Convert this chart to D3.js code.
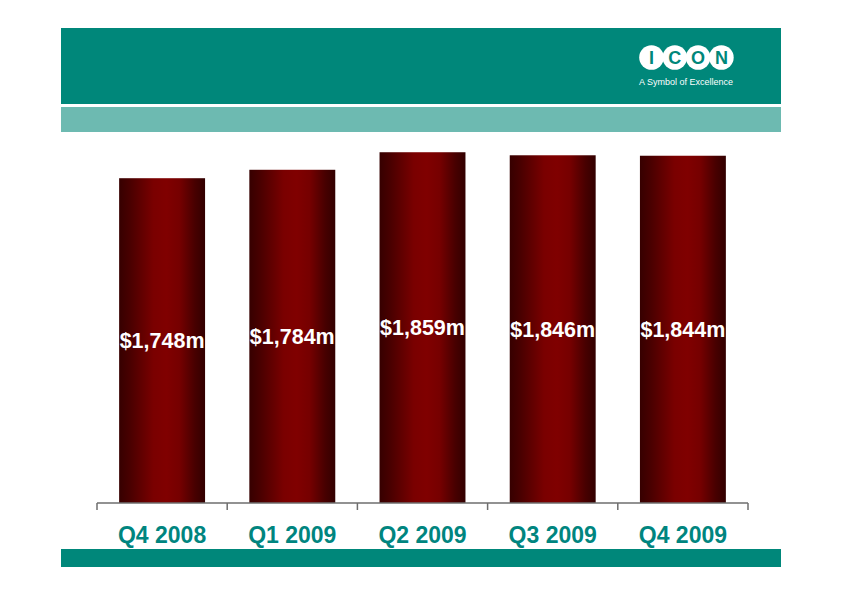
<!DOCTYPE html>
<html>
<head>
<meta charset="utf-8">
<script src="https://cdn.jsdelivr.net/npm/d3@7"></script>
<style>
  html, body { margin: 0; padding: 0; background: #ffffff; }
  svg { display: block; }
</style>
</head>
<body>
<svg id="chart" width="842" height="595"></svg>
<script>
// ---- Data ----
const categories = ["Q4 2008", "Q1 2009", "Q2 2009", "Q3 2009", "Q4 2009"];
const values = [1748, 1784, 1859, 1846, 1844];
const valueLabels = ["$1,748m", "$1,784m", "$1,859m", "$1,846m", "$1,844m"];
const logoLetters = ["I", "C", "O", "N"];
const logoTagline = "A Symbol of Excellence";

// ---- Layout ----
const svg = d3.select("#chart");
const teal = "#00877a";
const labelTeal = "#00857f";
const lightTeal = "#6dbab1";

// header band
svg.append("rect").attr("x", 61).attr("y", 28).attr("width", 720).attr("height", 76).attr("fill", teal);
svg.append("rect").attr("x", 61).attr("y", 107).attr("width", 720).attr("height", 25).attr("fill", lightTeal);
// footer band
svg.append("rect").attr("x", 61).attr("y", 549).attr("width", 720).attr("height", 18).attr("fill", teal);

// logo
const logo = svg.append("g").attr("transform", "translate(651.5,57.5)");
logo.selectAll("circle").data(logoLetters).join("circle")
  .attr("cx", (d, i) => i * 23.3)
  .attr("cy", 0)
  .attr("r", 12.3)
  .attr("fill", "#ffffff");
logo.selectAll("text").data(logoLetters).join("text")
  .attr("x", (d, i) => i * 23.3)
  .attr("y", 0)
  .attr("dy", "0.36em")
  .attr("text-anchor", "middle")
  .attr("font-family", "'Liberation Sans', Arial, sans-serif")
  .attr("font-weight", "bold")
  .attr("font-size", 18)
  .attr("fill", teal)
  .text(d => d);
svg.append("text")
  .attr("x", 686).attr("y", 85)
  .attr("text-anchor", "middle")
  .attr("font-family", "'Liberation Sans', Arial, sans-serif")
  .attr("font-size", 9)
  .attr("fill", "#ffffff")
  .attr("textLength", 94)
  .attr("lengthAdjust", "spacingAndGlyphs")
  .text(logoTagline);

// scales
const plotLeft = 97, plotRight = 748, baseY = 503;
const x = d3.scaleBand().domain(categories).range([plotLeft, plotRight]).paddingInner(0.34).paddingOuter(0.17);
const y = d3.scaleLinear().domain([360, 1900]).range([baseY, baseY - 1540 * 0.234]);

// gradient
const defs = svg.append("defs");
const grad = defs.append("linearGradient").attr("id", "barGrad")
  .attr("x1", "0%").attr("y1", "0%").attr("x2", "100%").attr("y2", "0%");
[[0, "#360000"], [0.12, "#480000"], [0.4, "#7a0000"], [0.55, "#800000"], [0.7, "#760000"], [0.88, "#480000"], [1, "#320000"]]
  .forEach(([o, c]) => grad.append("stop").attr("offset", o).attr("stop-color", c));

// bars
svg.selectAll("rect.bar").data(values).join("rect")
  .attr("class", "bar")
  .attr("x", (d, i) => x(categories[i]))
  .attr("y", d => y(d))
  .attr("width", x.bandwidth())
  .attr("height", d => baseY - y(d))
  .attr("fill", "url(#barGrad)");

// value labels
svg.selectAll("text.val").data(values).join("text")
  .attr("class", "val")
  .attr("x", (d, i) => x(categories[i]) + x.bandwidth() / 2)
  .attr("y", d => (y(d) + baseY) / 2)
  .attr("dy", "0.35em")
  .attr("text-anchor", "middle")
  .attr("font-family", "'Liberation Sans', Arial, sans-serif")
  .attr("font-weight", "bold")
  .attr("font-size", 21.5)
  .attr("fill", "#ffffff")
  .text((d, i) => valueLabels[i]);

// axis
const axisG = svg.append("g").attr("transform", `translate(0,${baseY})`);
axisG.append("line").attr("x1", plotLeft).attr("x2", plotRight).attr("y1", 0).attr("y2", 0)
  .attr("stroke", "#6e6e6e").attr("stroke-width", 1.5);
const tickPos = categories.map(c => x(c) - x.step() * x.paddingInner() / 2);
tickPos.push(plotRight);
axisG.selectAll("line.tick").data(tickPos).join("line")
  .attr("class", "tick")
  .attr("x1", d => d).attr("x2", d => d).attr("y1", 0).attr("y2", 7)
  .attr("stroke", "#6e6e6e").attr("stroke-width", 1.5);
axisG.selectAll("text.cat").data(categories).join("text")
  .attr("class", "cat")
  .attr("x", d => x(d) + x.bandwidth() / 2)
  .attr("y", 40)
  .attr("text-anchor", "middle")
  .attr("font-family", "'Liberation Sans', Arial, sans-serif")
  .attr("font-weight", "bold")
  .attr("font-size", 23)
  .attr("fill", labelTeal)
  .text(d => d);
</script>
</body>
</html>
